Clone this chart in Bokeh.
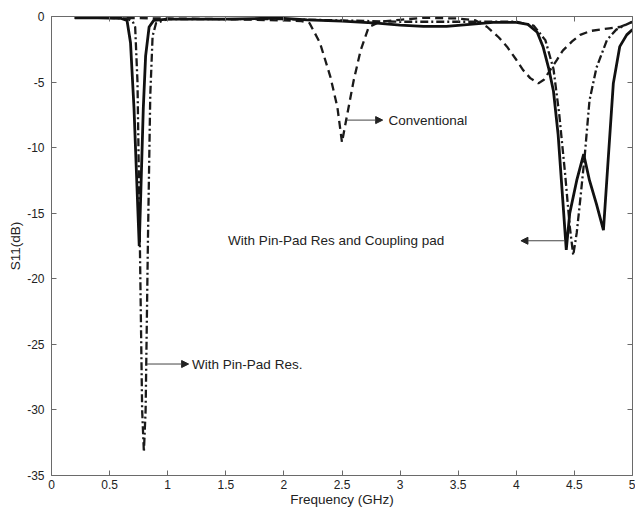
from bokeh.plotting import figure
from bokeh.models import (Range1d, FixedTicker, LinearAxis, CustomJSTickFormatter,
                          Label, Arrow, NormalHead, CustomLabelingPolicy)
from bokeh.embed import file_html
from bokeh.resources import INLINE

# ---------------- data ----------------
coup_f = [0.2, 0.4, 0.6, 0.65, 0.68, 0.71, 0.74, 0.755, 0.77, 0.79, 0.81, 0.84, 0.88, 1.0, 1.2,
          1.5, 1.8, 2.0, 2.2, 2.5, 2.8, 3.0, 3.2, 3.4, 3.6, 3.8, 4.0, 4.1, 4.18, 4.23, 4.28,
          4.32, 4.36, 4.40, 4.43, 4.46, 4.52, 4.58, 4.63, 4.69, 4.75, 4.79, 4.835, 4.89,
          4.95, 5.0]
coup_db = [-0.1, -0.1, -0.15, -0.3, -2.0, -7.0, -14.0, -17.5, -13.0, -7.0, -3.0, -0.8, -0.3,
           -0.2, -0.2, -0.2, -0.15, -0.15, -0.25, -0.35, -0.5, -0.65, -0.75, -0.75, -0.6,
           -0.45, -0.45, -0.6, -1.2, -2.3, -4.0, -5.7, -9.0, -14.0, -17.8, -15.0, -12.5,
           -10.5, -12.5, -14.3, -16.3, -11.0, -5.1, -2.3, -1.4, -1.0]

pin_f = [0.2, 0.5, 0.65, 0.7, 0.72, 0.74, 0.76, 0.78, 0.795, 0.81, 0.83, 0.85, 0.87, 0.9,
         1.0, 1.5, 2.0, 2.5, 3.0, 3.5, 3.8, 4.0, 4.15, 4.25, 4.32, 4.37, 4.42, 4.46, 4.49,
         4.52, 4.55, 4.59, 4.63, 4.69, 4.78, 4.86, 4.95, 5.0]
pin_db = [-0.1, -0.1, -0.15, -0.4, -0.8, -5.0, -17.0, -30.0, -33.2, -30.0, -17.0, -6.0,
          -1.5, -0.5, -0.2, -0.2, -0.2, -0.3, -0.4, -0.4, -0.4, -0.4, -0.7, -1.8, -4.0,
          -7.5, -12.0, -16.0, -18.2, -16.5, -14.0, -10.5, -6.4, -3.9, -1.8, -1.0, -0.6, -0.4]

conv_f = [0.2, 0.5, 1.0, 1.5, 2.0, 2.15, 2.22, 2.31, 2.4, 2.46, 2.5, 2.54, 2.6, 2.66, 2.73,
          2.83, 3.0, 3.2, 3.5, 3.65, 3.75, 3.85, 3.92, 4.0, 4.06, 4.12, 4.19, 4.24, 4.29,
          4.35, 4.40, 4.48, 4.55, 4.64, 4.72, 4.8, 4.89, 4.95, 5.0]
conv_db = [-0.1, -0.1, -0.15, -0.2, -0.3, -0.35, -0.5, -2.0, -4.6, -6.9, -9.6, -7.7, -4.9,
           -2.6, -0.8, -0.4, -0.25, -0.1, -0.15, -0.3, -0.8, -1.6, -2.3, -3.3, -4.1, -4.7,
           -5.1, -4.8, -4.1, -3.3, -2.6, -1.9, -1.4, -1.1, -1.0, -0.9, -0.8, -0.6, -0.4]

x_ticks = [0, 0.5, 1, 1.5, 2, 2.5, 3, 3.5, 4, 4.5, 5]
x_tick_labels = ["0", "0.5", "1", "1.5", "2", "2.5", "3", "3.5", "4", "4.5", "5"]
y_ticks = [0, -5, -10, -15, -20, -25, -30, -35]
y_tick_labels = ["0", "-5", "-10", "-15", "-20", "-25", "-30", "-35"]

x_title = "Frequency (GHz)"
y_title = "S11(dB)"

# annotations: (text, text x, text y, arrow start x, arrow end x)
ann_conv = ("Conventional", 2.90, -7.9, 2.54, 2.85)
ann_coup = ("With Pin-Pad Res and Coupling pad", 1.52, -17.1, 4.41, 4.04)
ann_pin = ("With Pin-Pad Res.", 1.21, -26.5, 0.82, 1.18)

# ---------------- figure ----------------
FONT = "Liberation Sans"
AXC = "#6a6a6a"
TXT = "#222222"

p = figure(width=635, height=510, x_range=Range1d(0, 5), y_range=Range1d(-35, 0),
           output_backend="svg", toolbar_location=None,
           min_border_left=51, min_border_right=3, min_border_top=16, min_border_bottom=35)
p.outline_line_color = None
p.grid.visible = False
p.background_fill_color = "white"
p.border_fill_color = "white"


def style_axis(ax, ticks, labels=None):
    ax.ticker = FixedTicker(ticks=ticks)
    ax.axis_line_color = AXC
    ax.major_tick_line_color = AXC
    ax.major_tick_in = 5
    ax.major_tick_out = 0
    ax.minor_tick_line_color = None
    ax.major_label_text_font = FONT
    ax.major_label_text_color = TXT
    ax.major_label_text_font_size = "12px"
    if labels is None:
        ax.major_label_standoff = 0
        ax.formatter = CustomJSTickFormatter(code="return '';")
        ax.major_label_policy = CustomLabelingPolicy(code="return [];")
    else:
        ax.formatter = CustomJSTickFormatter(args=dict(t=ticks, l=labels),
                                             code="const i = t.indexOf(tick); return i >= 0 ? l[i] : '';")


style_axis(p.xaxis[0], x_ticks, x_tick_labels)
style_axis(p.yaxis[0], y_ticks, y_tick_labels)
p.xaxis[0].axis_label = x_title
p.yaxis[0].axis_label = y_title
for ax in (p.xaxis[0], p.yaxis[0]):
    ax.axis_label_text_font = FONT
    ax.axis_label_text_font_size = "13.5px"
    ax.axis_label_text_font_style = "normal"
    ax.axis_label_text_color = TXT
p.xaxis[0].major_label_standoff = 4
p.xaxis[0].axis_label_standoff = 0
p.yaxis[0].major_label_standoff = 7
p.yaxis[0].axis_label_standoff = 1

top = LinearAxis()
style_axis(top, x_ticks)
p.add_layout(top, "above")
right = LinearAxis()
style_axis(right, y_ticks)
p.add_layout(right, "right")

# curves
p.line(conv_f, conv_db, line_color="#1a1a1a", line_width=2.3, line_dash="8 5")
p.line(pin_f, pin_db, line_color="#1a1a1a", line_width=2.3, line_dash="8 3 2 3")
p.line(coup_f, coup_db, line_color="#111111", line_width=2.8)

# annotations
for txt, tx, ty, ax0, ax1 in (ann_conv, ann_coup, ann_pin):
    p.add_layout(Label(x=tx, y=ty, text=txt, text_font=FONT, text_font_size="13.5px",
                       text_color=TXT, text_baseline="middle", text_align="left"))
    p.add_layout(Arrow(end=NormalHead(size=7, fill_color="#222222", line_color="#222222"),
                       x_start=ax0, y_start=ty, x_end=ax1, y_end=ty,
                       line_color="#444444", line_width=1))

open("out.html", "w").write(file_html(p, INLINE))
